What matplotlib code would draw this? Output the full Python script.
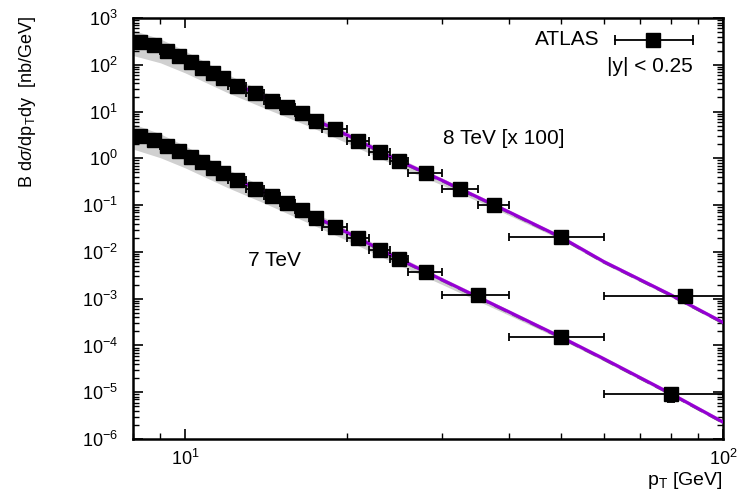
import numpy as np
import matplotlib.pyplot as plt

plt.rcParams['font.family'] = ['Liberation Sans', 'DejaVu Sans']
plt.rcParams['mathtext.fontset'] = 'custom'
plt.rcParams['mathtext.rm'] = 'Liberation Sans'
plt.rcParams['mathtext.it'] = 'Liberation Sans:italic'

# 7 TeV data
pt7 = [8.25, 8.75, 9.25, 9.75, 10.25, 10.75, 11.25, 11.75, 12.5, 13.5, 14.5, 15.5,
       16.5, 17.5, 19, 21, 23, 25, 28, 35, 50, 80]
lo7 = [8, 8.5, 9, 9.5, 10, 10.5, 11, 11.5, 12, 13, 14, 15, 16, 17, 18, 20, 22, 24, 26, 30, 40, 60]
hi7 = [8.5, 9, 9.5, 10, 10.5, 11, 11.5, 12, 13, 14, 15, 16, 17, 18, 20, 22, 24, 26, 30, 40, 60, 100]
y7 = [3.01, 2.46, 1.87, 1.44, 1.09, 0.826, 0.632, 0.48, 0.345, 0.222, 0.160, 0.110,
      0.0789, 0.054, 0.0347, 0.0196, 0.011, 0.00698, 0.00368, 1.17e-3, 1.48e-4, 9.1e-6]
e7 = [0.1, 0.08, 0.06, 0.05, 0.04, 0.03, 0.02, 0.015, 0.01, 0.007, 0.005, 0.004,
      0.003, 0.002, 0.0012, 0.0008, 0.0005, 0.0003, 0.0002, 8e-5, 1.2e-5, 3e-6]

# 8 TeV data (x 100)
pt8 = [8.25, 8.75, 9.25, 9.75, 10.25, 10.75, 11.25, 11.75, 12.5, 13.5, 14.5, 15.5,
       16.5, 17.5, 19, 21, 23, 25, 28, 32.5, 37.5, 50, 85]
lo8 = [8, 8.5, 9, 9.5, 10, 10.5, 11, 11.5, 12, 13, 14, 15, 16, 17, 18, 20, 22, 24, 26, 30, 35, 40, 60]
hi8 = [8.5, 9, 9.5, 10, 10.5, 11, 11.5, 12, 13, 14, 15, 16, 17, 18, 20, 22, 24, 26, 30, 35, 40, 60, 110]
y8 = [310, 265, 200, 154, 116, 87, 66, 51.5, 35.2, 24.6, 17.1, 12.4, 9.2, 6.4, 4.19,
      2.39, 1.39, 0.89, 0.495, 0.219, 0.101, 0.0212, 1.13e-3]
e8 = [10, 8, 6, 5, 4, 3, 2, 1.5, 1, 0.7, 0.5, 0.4, 0.3, 0.2, 0.12, 0.08, 0.05, 0.03,
      0.02, 0.01, 0.005, 0.0015, 1e-4]

# theory curves
ptc = [8, 9, 10, 12, 14, 17, 20, 25, 30, 40, 50, 60, 80, 100]
c7 = [3.3, 2.15, 1.25, 0.43, 0.19, 0.065, 0.026, 0.0070, 2.55e-3, 5.2e-4, 1.5e-4,
      5.2e-5, 9.3e-6, 2.3e-6]
c8 = [330, 230, 134, 46, 20.5, 7.7, 3.15, 0.88, 0.34, 0.0712, 0.0205, 6.2e-3,
      1.2e-3, 3.1e-4]
band_dn = [0.32, 0.32, 0.3, 0.26, 0.23, 0.2, 0.17, 0.13, 0.1, 0.07, 0.05, 0.045, 0.04, 0.04]
band_up = [0.22, 0.19, 0.17, 0.13, 0.11, 0.09, 0.07, 0.06, 0.05, 0.04, 0.03, 0.03, 0.03, 0.03]

fig = plt.figure(figsize=(7.45, 4.99), dpi=100)
ax = fig.add_axes([0.1785, 0.1202, 0.7920, 0.8437])

ptc_a = np.array(ptc)
for c in (c7, c8):
    c = np.array(c)
    ax.fill_between(ptc_a, c * 10**(-np.array(band_dn)), c * 10**np.array(band_up),
                    color='#d0d0d0', lw=0, zorder=1)
    ax.plot(ptc_a, c * 0.96, color='#707070', lw=1.6, ls=(0, (6, 3)), zorder=2)
    ax.plot(ptc_a, c * 1.04, color='#e090e8', lw=1.5, zorder=2)
    ax.plot(ptc_a, c, color='#9400d3', lw=2.3, zorder=3)

for pt, lo, hi, y, e in ((pt7, lo7, hi7, y7, e7), (pt8, lo8, hi8, y8, e8)):
    pt = np.array(pt)
    xerr = [pt - np.array(lo), np.array(hi) - pt]
    ax.errorbar(pt, y, xerr=xerr, yerr=e, fmt='s', color='black', ms=10,
                elinewidth=1.3, capsize=3, capthick=1.3, zorder=4)

ax.set_xscale('log')
ax.set_yscale('log')
ax.set_xlim(8, 100)
ax.set_ylim(1e-6, 1e3)

for s in ax.spines.values():
    s.set_linewidth(1.8)
ax.tick_params(which='both', direction='in', top=True, right=True, labelsize=13)
ax.tick_params(which='major', length=7, width=1.2)
ax.tick_params(which='minor', length=4, width=1.0)
ax.tick_params(axis='y', pad=11)
ax.tick_params(axis='x', pad=7)
ax.xaxis.set_minor_formatter(plt.NullFormatter())

ax.set_ylabel(r'B d$\sigma$/dp$_{\rm T}$dy  [nb/GeV]', fontsize=13, loc='top')
ax.yaxis.set_label_coords(-0.161, 1.005)
ax.set_xlabel(r'p$_{\rm T}$ [GeV]', fontsize=14, loc='right', labelpad=1)

# legend sample drawn by hand
tr = ax.transAxes
ax.text(0.7915, 0.948, 'ATLAS', transform=tr, ha='right', va='center', fontsize=15)
ax.plot([0.817, 0.949], [0.948, 0.948], color='black', lw=1.3, transform=tr)
ax.plot([0.817, 0.949], [0.948, 0.948], ls='none', marker='|', ms=7, mew=1.3,
        color='black', transform=tr)
ax.plot([0.881], [0.948], ls='none', marker='s', ms=10, color='black', transform=tr)
ax.text(0.949, 0.884, '|y| < 0.25', transform=tr, ha='right', va='center', fontsize=15)
ax.text(0.525, 0.715, '8 TeV [x 100]', transform=tr, ha='left', va='center', fontsize=15)
ax.text(0.195, 0.425, '7 TeV', transform=tr, ha='left', va='center', fontsize=15)

fig.savefig('out.png', dpi=100)
